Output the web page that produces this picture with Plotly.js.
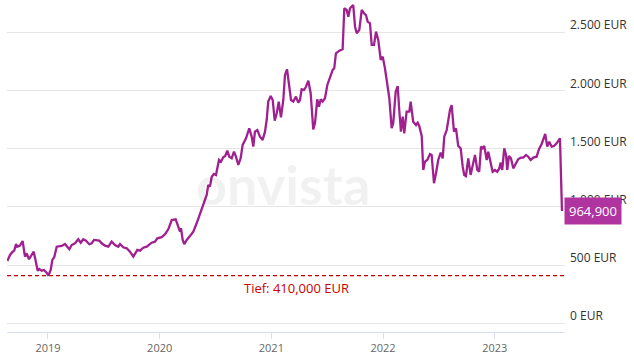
<!DOCTYPE html>
<html>
<head>
<meta charset="utf-8">
<script src="https://cdn.plot.ly/plotly-3.0.1.min.js"></script>
<style>html,body{margin:0;padding:0;background:#fff;}#chart{width:634px;height:357px;}</style>
</head>
<body>
<div id="chart"></div>
<script>
// Time in decimal years, price in EUR
const years = [
2018.636,2018.660,2018.684,2018.698,2018.714,2018.725,2018.749,2018.773,2018.794,2018.809,
2018.830,2018.854,2018.872,2018.890,2018.908,2018.922,2018.944,2018.964,2018.988,2019.004,
2019.024,2019.039,2019.056,2019.078,2019.101,2019.123,2019.152,2019.173,2019.191,2019.212,
2019.242,2019.271,2019.293,2019.316,2019.340,2019.370,2019.391,2019.412,2019.436,2019.459,
2019.481,2019.510,2019.540,2019.570,2019.600,2019.629,2019.645,2019.674,2019.705,2019.734,
2019.764,2019.779,2019.800,2019.824,2019.853,2019.884,2019.928,2019.958,2019.979,2020.018,
2020.048,2020.077,2020.108,2020.143,2020.167,2020.182,2020.191,2020.206,2020.220,2020.242,
2020.271,2020.301,2020.331,2020.361,2020.390,2020.421,2020.435,2020.450,2020.466,2020.486,
2020.504,2020.516,2020.531,2020.549,2020.569,2020.587,2020.605,2020.623,2020.645,2020.665,
2020.683,2020.704,2020.725,2020.743,2020.773,2020.802,2020.824,2020.838,2020.853,2020.874,
2020.898,2020.922,2020.943,2020.958,2020.972,2020.994,2021.012,2021.030,2021.048,2021.066,
2021.086,2021.107,2021.122,2021.140,2021.158,2021.176,2021.196,2021.220,2021.241,2021.256,
2021.271,2021.292,2021.310,2021.331,2021.352,2021.366,2021.375,2021.391,2021.411,2021.426,
2021.442,2021.459,2021.480,2021.501,2021.525,2021.549,2021.563,2021.578,2021.608,2021.638,
2021.653,2021.674,2021.689,2021.704,2021.719,2021.733,2021.749,2021.764,2021.787,2021.809,
2021.829,2021.847,2021.862,2021.883,2021.898,2021.919,2021.937,2021.957,2021.979,2021.997,
2022.017,2022.038,2022.056,2022.077,2022.091,2022.113,2022.131,2022.145,2022.160,2022.176,
2022.190,2022.211,2022.235,2022.247,2022.270,2022.295,2022.310,2022.324,2022.346,2022.360,
2022.375,2022.396,2022.420,2022.435,2022.456,2022.474,2022.494,2022.516,2022.534,2022.548,
2022.570,2022.599,2022.614,2022.635,2022.653,2022.673,2022.695,2022.713,2022.727,2022.742,
2022.763,2022.784,2022.808,2022.823,2022.844,2022.861,2022.877,2022.892,2022.906,2022.928,
2022.942,2022.964,2022.981,2023.002,2023.023,2023.041,2023.053,2023.067,2023.085,2023.101,
2023.112,2023.127,2023.145,2023.166,2023.190,2023.211,2023.235,2023.255,2023.280,2023.300,
2023.322,2023.345,2023.375,2023.396,2023.420,2023.441,2023.452,2023.470,2023.488,2023.510,
2023.530,2023.554,2023.584,2023.602
];
const prices = [
535,587,615,624,681,658,667,707,572,601,
550,587,615,535,452,466,452,458,435,410,
458,544,567,658,658,664,681,658,636,672,
687,722,692,722,710,679,687,716,710,710,
687,667,658,701,672,658,681,653,644,615,
572,601,630,624,649,658,692,701,730,739,
765,807,887,893,830,787,816,716,679,716,
750,787,859,945,1030,1102,1188,1174,1259,1283,
1274,1345,1403,1388,1426,1437,1483,1431,1417,1474,
1431,1360,1417,1532,1589,1675,1603,1517,1646,1660,
1603,1575,1646,1746,1904,1953,1918,1740,1804,1904,
1770,1918,2133,2182,2047,1918,1904,1947,1895,1918,
2010,2004,2032,2084,1976,1789,1666,1723,1924,1861,
1924,1904,1933,2047,2118,2176,2190,2319,2342,2354,
2706,2691,2634,2706,2720,2734,2548,2491,2519,2691,
2663,2648,2591,2577,2391,2391,2505,2434,2262,2290,
2190,2062,1933,1675,1718,1989,2038,1832,1646,1775,
1632,1818,1818,1904,1732,1703,1723,1695,1609,1317,
1388,1403,1454,1446,1203,1289,1403,1466,1417,1603,
1660,1832,1875,1646,1675,1523,1503,1345,1274,1265,
1417,1274,1380,1446,1317,1302,1517,1503,1523,1403,
1474,1380,1302,1317,1302,1331,1380,1317,1503,1446,
1317,1437,1417,1331,1374,1411,1423,1423,1446,1431,
1403,1423,1431,1495,1540,1589,1626,1517,1560,1517,
1523,1546,1589,964.9
];
const yearTicks = [2019, 2020, 2021, 2022, 2023];
const yearLabels = ["2019", "2020", "2021", "2022", "2023"];
const priceTicks = [0, 500, 1000, 1500, 2000, 2500];
const priceLabels = ["0 EUR", "500 EUR", "1.000 EUR", "1.500 EUR", "2.000 EUR", "2.500 EUR"];
const lowValue = 410;
const lowLabel = "Tief: 410,000 EUR";
const lastValue = 964.9;
const lastLabel = "964,900";

const xRange = [2018.633, 2023.629];

const traces = [
  {
    x: [xRange[0], xRange[1]], y: [lowValue, lowValue], mode: 'lines',
    line: {color: '#c00000', width: 1.2, dash: '4px,3px'}, hoverinfo: 'skip', showlegend: false
  },
  {
    x: years, y: prices, mode: 'lines',
    line: {color: '#a0208f', width: 2.3}, showlegend: false
  }
];

const layout = {
  width: 634, height: 357,
  margin: {l: 7, r: 69, t: 0, b: 25},
  paper_bgcolor: '#ffffff', plot_bgcolor: '#ffffff',
  font: {family: 'Open Sans, sans-serif', color: '#333'},
  xaxis: {
    range: xRange, tickvals: yearTicks, ticktext: yearLabels,
    showgrid: false, zeroline: false,
    showline: true, linecolor: '#d6e0ee', linewidth: 1,
    ticks: 'outside', ticklen: 6, tickcolor: '#d6e0ee',
    tickfont: {size: 11, color: '#666'}, fixedrange: true
  },
  yaxis: {
    side: 'right', range: [-75, 2777],
    tickvals: priceTicks, ticktext: priceLabels,
    showgrid: true, gridcolor: '#e6e6e6', gridwidth: 1,
    zeroline: false, showline: false, ticks: '',
    ticklabelshift: -7, ticklabelstandoff: 4,
    tickfont: {size: 12, color: '#333'}, fixedrange: true
  },
  annotations: [
    {
      xref: 'paper', yref: 'y', x: 0.518, y: lowValue, xanchor: 'center', yanchor: 'top',
      text: lowLabel, showarrow: false, font: {size: 13, color: '#cc0000'}, yshift: -1
    },
    {
      xref: 'paper', yref: 'y', x: 0.495, y: 1190, xanchor: 'center', yanchor: 'middle',
      text: '<b>onvista</b>', showarrow: false, font: {size: 54, color: 'rgba(0,0,0,0.055)', family: 'Lato, Open Sans, sans-serif'}
    },
    {
      xref: 'paper', yref: 'y', x: 1, y: lastValue, xanchor: 'left', yanchor: 'middle',
      text: lastLabel, showarrow: false, bgcolor: '#b034a0', borderpad: 4, xshift: -1,
      font: {size: 13, color: '#ffffff'}
    }
  ]
};

Plotly.newPlot('chart', traces, layout, {staticPlot: true, displayModeBar: false});
</script>
</body>
</html>
